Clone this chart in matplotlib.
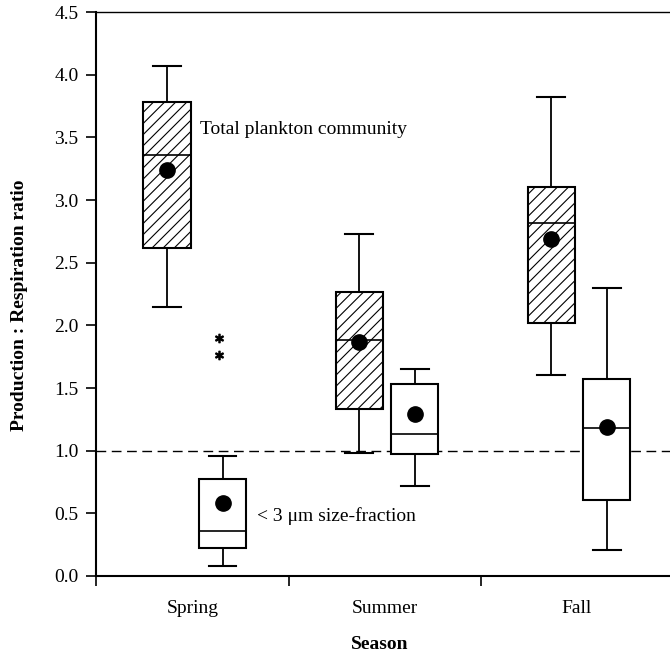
import matplotlib
matplotlib.use("Agg")
from matplotlib import pyplot as plt

seasons = ["Spring", "Summer", "Fall"]

# total plankton community (hatched boxes)
total_whislo = [2.15, 0.98, 1.60]
total_q1 = [2.62, 1.33, 2.02]
total_med = [3.36, 1.88, 2.82]
total_q3 = [3.78, 2.27, 3.10]
total_whishi = [4.07, 2.73, 3.82]
total_mean = [3.24, 1.87, 2.69]

# < 3 um size-fraction (white boxes)
small_whislo = [0.08, 0.72, 0.21]
small_q1 = [0.22, 0.97, 0.61]
small_med = [0.36, 1.13, 1.18]
small_q3 = [0.77, 1.53, 1.57]
small_whishi = [0.96, 1.65, 2.30]
small_mean = [0.58, 1.29, 1.19]
small_fliers = [[1.90, 1.76], [], []]

plt.rcParams["font.family"] = ["Liberation Serif", "DejaVu Serif"]
plt.rcParams["hatch.linewidth"] = 0.8

fig = plt.figure(figsize=(6.7, 6.57), dpi=100)
ax = fig.add_axes([0.144, 0.1233, 0.8605, 0.8584])


def stats(lo, q1, med, q3, hi, mean, fl):
    return [dict(whislo=lo[i], q1=q1[i], med=med[i], q3=q3[i], whishi=hi[i],
                 mean=mean[i], fliers=fl[i]) for i in range(len(lo))]


common = dict(
    widths=0.245,
    capwidths=0.145,
    showmeans=True,
    patch_artist=True,
    boxprops=dict(linewidth=1.5, edgecolor="black"),
    whiskerprops=dict(linewidth=1.3, color="black"),
    capprops=dict(linewidth=1.5, color="black"),
    medianprops=dict(linewidth=1.2, color="black"),
    meanprops=dict(marker="o", markerfacecolor="black", markeredgecolor="black",
                   markersize=11),
    flierprops=dict(marker=r"$\ast$", markerfacecolor="black",
                    markeredgecolor="black", markersize=6, linestyle="none"),
)

pos_total = [i + 0.367 for i in range(3)]
pos_small = [i + 0.656 for i in range(3)]

b1 = ax.bxp(stats(total_whislo, total_q1, total_med, total_q3, total_whishi,
                  total_mean, [[], [], []]), positions=pos_total, **common)
for p in b1["boxes"]:
    p.set_facecolor("white")
    p.set_hatch("///")

b2 = ax.bxp(stats(small_whislo, small_q1, small_med, small_q3, small_whishi,
                  small_mean, small_fliers), positions=pos_small, **common)
for p in b2["boxes"]:
    p.set_facecolor("white")
for f in b2["fliers"]:
    f.set_xdata([x - 0.02 for x in f.get_xdata()])

ax.axhline(1.0, color="black", linewidth=1.0, linestyle=(0, (7, 4)), zorder=0)

ax.text(pos_total[0] + 0.17, 3.56, "Total plankton community", fontsize=14,
        va="center", ha="left")
ax.text(pos_small[0] + 0.18, 0.48, "< 3 \u03bcm size-fraction", fontsize=14,
        va="center", ha="left")

ax.set_xlim(0, 3)
ax.set_ylim(0, 4.5)
ax.set_xticks([0, 1, 2, 3])
ax.set_xticklabels([])
ax.set_xticks([0.5, 1.5, 2.5], minor=True)
ax.set_xticklabels(seasons, minor=True, fontsize=14)
ax.tick_params(axis="x", which="minor", length=0, pad=17)
ax.tick_params(axis="x", which="major", length=7, width=1.2, direction="out")
ax.set_yticks([0, 0.5, 1, 1.5, 2, 2.5, 3, 3.5, 4, 4.5])
ax.set_yticklabels(["0.0", "0.5", "1.0", "1.5", "2.0", "2.5", "3.0", "3.5",
                    "4.0", "4.5"], fontsize=14)
ax.tick_params(axis="y", length=7, width=1.2, direction="out", pad=6)

ax.spines["right"].set_visible(False)
ax.spines["left"].set_linewidth(1.5)
ax.spines["bottom"].set_linewidth(1.5)
ax.spines["top"].set_linewidth(1.0)

ax.set_xlabel("Season", fontsize=14, fontweight="bold")
ax.xaxis.set_label_coords(0.491, -0.106)
ax.set_ylabel("Production : Respiration ratio", fontsize=14,
              fontweight="bold")
ax.yaxis.set_label_coords(-0.118, 0.48)

fig.savefig("out.png", dpi=100)
